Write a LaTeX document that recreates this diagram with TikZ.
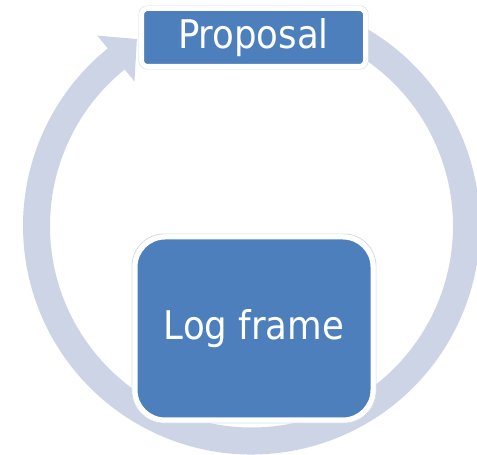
\documentclass[tikz,border=0pt]{standalone}
\usepackage{fontspec}
\setmainfont{DejaVu Sans Condensed}
\definecolor{ringcol}{RGB}{205,212,229}
\definecolor{boxblue}{RGB}{77,127,189}
\definecolor{rimgray}{RGB}{215,218,224}
\tikzset{
  stagebox/.style={fill=boxblue, text=white, draw=white, line width=5pt,
    font=\fontsize{39.5}{42}\selectfont, inner sep=0pt, align=center},
  rimbox/.style={fill=white, draw=rimgray, line width=0.8pt, inner sep=0pt}
}
\begin{document}
\begin{tikzpicture}
\useasboundingbox (0pt,0pt) rectangle (477pt,455pt);
\begin{scope}
\clip (0pt,0pt) rectangle (477pt,455pt);
% ring arrow
\coordinate (C) at (251.5pt,229pt);
\coordinate (tip) at ([shift={(C)}]121.5:219.3pt);
\fill[ringcol] ([shift={(C)}]63:228.5pt)
  arc[start angle=63, end angle=-231, radius=228.5pt]
  -- ([shift={(C)}]-231:245pt)
  -- (tip)
  -- ([shift={(C)}]-231:186pt)
  -- ([shift={(C)}]-231:201.5pt)
  arc[start angle=-231, end angle=63, radius=201.5pt]
  -- cycle;
\end{scope}
% Proposal box
\node[rimbox, rounded corners=8pt, minimum width=229pt, minimum height=63pt] (prim) at (253.5pt,417.5pt) {};
\node[stagebox, rounded corners=6pt, minimum width=224pt, minimum height=58pt] (proposal) at (253.5pt,417.5pt) {Proposal};
% Log frame box
\node[rimbox, rounded corners=32pt, minimum width=244pt, minimum height=189pt] (lrim) at (254pt,126.5pt) {};
\node[stagebox, rounded corners=30pt, minimum width=238pt, minimum height=183pt] (logframe) at (254pt,126.5pt) {Log frame};
\end{tikzpicture}
\end{document}
